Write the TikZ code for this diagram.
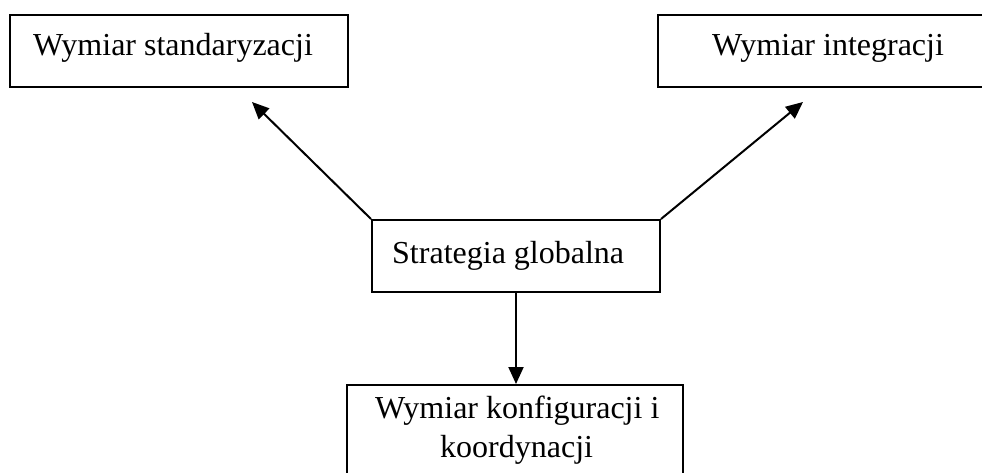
\documentclass[tikz,border=0pt]{standalone}
\usepackage{fontspec}
\setmainfont{Liberation Serif}
\usetikzlibrary{arrows.meta}
\begin{document}
\begin{tikzpicture}[x=1pt,y=-1pt,
  box/.style={draw, line width=2pt, rectangle, inner sep=0pt},
  lbl/.style={anchor=base west, inner sep=0pt, font=\fontsize{32}{39}\selectfont},
  arr/.style={line width=2pt, -{Triangle[length=17pt,width=15pt]}}]
  \useasboundingbox (0,0) rectangle (982,473);
  % boxes, given by their corners
  \node[box, minimum width=338pt, minimum height=72pt] (std) at (179,51) {};
  \node[box, minimum width=332pt, minimum height=72pt] (integ) at (824,51) {};
  \node[box, minimum width=288pt, minimum height=72pt] (strat) at (516,256) {};
  \node[box, minimum width=336pt, minimum height=100pt] (conf) at (515,435) {};
  % labels
  \node[lbl] (tstd) at (33,56) {Wymiar standaryzacji};
  \node[lbl] (tinteg) at (712,56) {Wymiar integracji};
  \node[lbl] (tstrat) at (392,263) {Strategia globalna};
  \node[lbl] (tconf1) at (375,418) {Wymiar konfiguracji i};
  \node[lbl] (tconf2) at (440,457) {koordynacji};
  % free arrow ends
  \coordinate (endstd) at (252,102);
  \coordinate (endinteg) at (803,102);
  % connectors
  \draw[arr] (strat.north west) -- (endstd);
  \draw[arr] (strat.north east) -- (endinteg);
  \draw[arr] (strat.south) -- (strat.south |- conf.north);
\end{tikzpicture}
\end{document}
